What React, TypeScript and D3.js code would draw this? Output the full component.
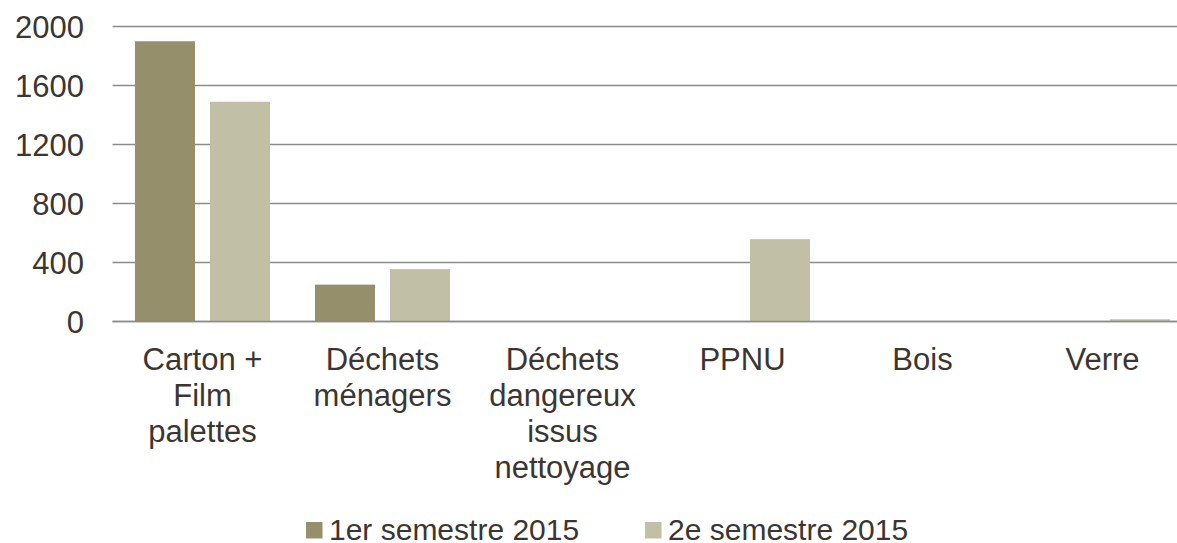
import React, { useEffect, useRef } from 'react';
import { select, scaleBand, scaleLinear } from 'd3';

const categories = [
  'Carton + Film palettes',
  'Déchets ménagers',
  'Déchets dangereux issus nettoyage',
  'PPNU',
  'Bois',
  'Verre',
];
const categoryLines = [
  ['Carton +', 'Film', 'palettes'],
  ['Déchets', 'ménagers'],
  ['Déchets', 'dangereux', 'issus', 'nettoyage'],
  ['PPNU'],
  ['Bois'],
  ['Verre'],
];
const seriesNames = ['1er semestre 2015', '2e semestre 2015'];
const semestre1 = [1900, 250, 0, 0, 0, 0];
const semestre2 = [1490, 355, 0, 558, 0, 15];
const yTicks = [0, 400, 800, 1200, 1600, 2000];
const colors = ['#968f6b', '#c1bfa6'];

const W = 1177;
const H = 543;

const App = () => {
  const svgRef = useRef(null);

  useEffect(() => {
    document.body.style.margin = '0';
    const svg = select(svgRef.current);
    svg.selectAll('*').remove();

    const font = "'Liberation Sans', Arial, sans-serif";
    const textColor = '#3b3631';
    const left = 112.5;
    const right = 1192.5; // plot runs past the right edge, like the reference

    const x0 = scaleBand().domain(categories).range([left, right]).padding(0);
    const x1 = scaleBand()
      .domain(seriesNames)
      .range([0, x0.bandwidth()])
      .paddingInner(0.2)
      .paddingOuter(0.3);
    const y = scaleLinear().domain([0, 2000]).range([321.5, 26.5]);

    // gridlines
    svg
      .append('g')
      .selectAll('line')
      .data(yTicks)
      .enter()
      .append('line')
      .attr('x1', left)
      .attr('x2', right)
      .attr('y1', (d) => y(d))
      .attr('y2', (d) => y(d))
      .attr('stroke', '#8c8c8c')
      .attr('stroke-width', 1.6);

    // y labels
    svg
      .append('g')
      .selectAll('text')
      .data(yTicks)
      .enter()
      .append('text')
      .attr('x', 84)
      .attr('y', (d) => y(d) + 11)
      .attr('text-anchor', 'end')
      .attr('font-family', font)
      .attr('font-size', 31)
      .attr('fill', textColor)
      .text((d) => d);

    // bars
    [semestre1, semestre2].forEach((vals, si) => {
      svg
        .append('g')
        .selectAll('rect')
        .data(vals.map((v, i) => ({ cat: categories[i], v })).filter((d) => d.v > 0))
        .enter()
        .append('rect')
        .attr('x', (d) => x0(d.cat) + x1(seriesNames[si]))
        .attr('width', x1.bandwidth())
        .attr('y', (d) => y(d.v))
        .attr('height', (d) => y(0) - y(d.v))
        .attr('fill', colors[si]);
    });

    // axis line on top of bars
    svg
      .append('line')
      .attr('x1', left)
      .attr('x2', right)
      .attr('y1', y(0))
      .attr('y2', y(0))
      .attr('stroke', '#8c8c8c')
      .attr('stroke-width', 1.6);

    // category labels
    const cat = svg.append('g');
    categories.forEach((c, i) => {
      const cx = x0(c) + x0.bandwidth() / 2;
      const t = cat
        .append('text')
        .attr('text-anchor', 'middle')
        .attr('font-family', font)
        .attr('font-size', 31)
        .attr('fill', textColor);
      categoryLines[i].forEach((line, li) => {
        t.append('tspan').attr('x', cx).attr('y', 370 + li * 36).text(line);
      });
    });

    // legend
    const legendX = [306, 645];
    const leg = svg.append('g');
    seriesNames.forEach((name, i) => {
      leg
        .append('rect')
        .attr('x', legendX[i])
        .attr('y', 522)
        .attr('width', 16.5)
        .attr('height', 16.5)
        .attr('fill', colors[i]);
      leg
        .append('text')
        .attr('x', legendX[i] + 23)
        .attr('y', 540)
        .attr('font-family', font)
        .attr('font-size', 30)
        .attr('fill', textColor)
        .text(name);
    });
  }, []);

  return <svg ref={svgRef} width={W} height={H} style={{ display: 'block' }}></svg>;
};

export default App;
